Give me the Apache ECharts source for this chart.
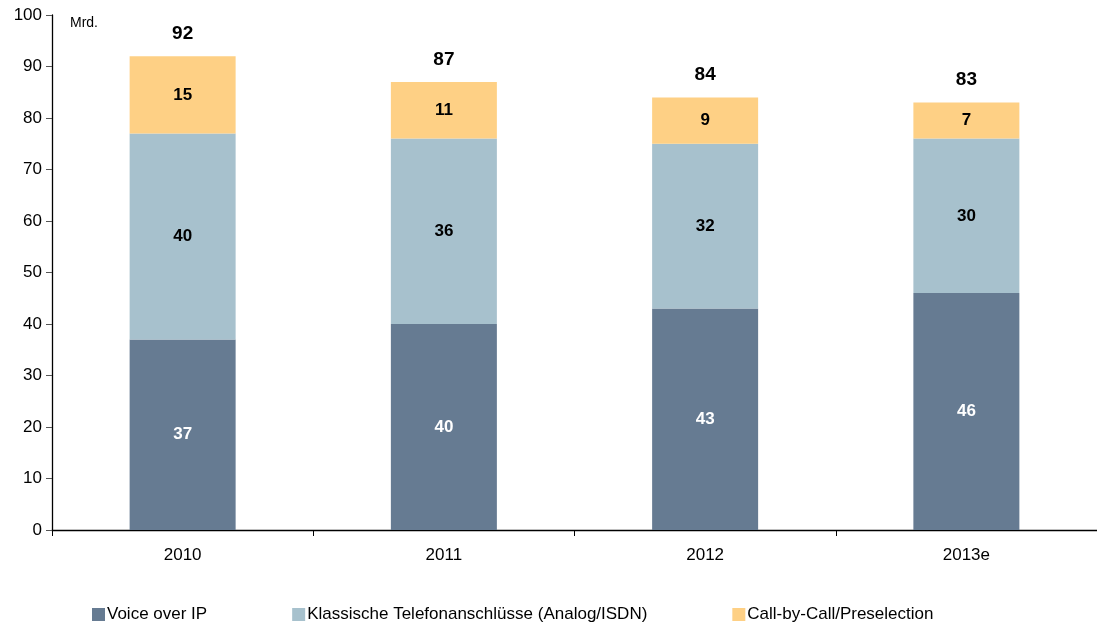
<!DOCTYPE html>
<html>
<head>
<meta charset="utf-8">
<script src="https://cdn.jsdelivr.net/npm/echarts@6/dist/echarts.min.js"></script>
<style>
  html, body { margin: 0; padding: 0; background: #ffffff; }
  #chart { width: 1097px; height: 625px; }
</style>
</head>
<body>
<div id="chart"></div>
<script>
// Sprachminuten im Festnetz, Mrd.
const years = ['2010', '2011', '2012', '2013e'];
const voip = [37, 40, 43, 46];
const klassisch = [40, 36, 32, 30];
const callByCall = [15, 11, 9, 7];
const totals = years.map((_, i) => voip[i] + klassisch[i] + callByCall[i]);

const FONT = 'Liberation Sans, Arial, sans-serif';
const colors = ['#667b92', '#a7c1cd', '#fed085'];

const chart = echarts.init(document.getElementById('chart'));

function barSeries(name, data, color, labelColor) {
  return {
    name: name,
    type: 'bar',
    stack: 'total',
    data: data,
    barWidth: 106,
    itemStyle: { color: color },
    label: {
      show: true,
      position: 'inside',
      color: labelColor,
      fontFamily: FONT,
      fontWeight: 'bold',
      fontSize: 17
    },
    emphasis: { disabled: true }
  };
}

chart.setOption({
  animation: false,
  textStyle: { fontFamily: FONT },
  grid: { left: 52, right: -5, top: 15, bottom: 95, containLabel: false },
  legend: {
    data: ['Voice over IP', 'Klassische Telefonanschlüsse (Analog/ISDN)', 'Call-by-Call/Preselection'],
    left: 92,
    top: 606,
    padding: 0,
    itemWidth: 13,
    itemHeight: 13,
    itemGap: 85,
    icon: 'rect',
    textStyle: { fontFamily: FONT, fontSize: 17, color: '#000', padding: [0, 0, 0, -3] }
  },
  graphic: [{
    type: 'text',
    left: 70,
    top: 16,
    style: { text: 'Mrd.', fontFamily: FONT, fontSize: 14, fill: '#000' }
  }],
  xAxis: {
    type: 'category',
    data: years,
    axisLine: { lineStyle: { color: '#000', width: 1.3 } },
    axisTick: { show: true, length: 6, inside: false, lineStyle: { color: '#000' } },
    axisLabel: { color: '#000', fontSize: 17, fontFamily: FONT, margin: 17 }
  },
  yAxis: {
    type: 'value',
    min: 0,
    max: 100,
    interval: 10,
    splitLine: { show: false },
    axisLine: { show: true, lineStyle: { color: '#000', width: 1.3 } },
    axisTick: { show: true, length: 6, lineStyle: { color: '#555' } },
    axisLabel: { color: '#000', fontSize: 17, fontFamily: FONT, margin: 10 }
  },
  series: [
    barSeries('Voice over IP', voip, colors[0], '#ffffff'),
    barSeries('Klassische Telefonanschlüsse (Analog/ISDN)', klassisch, colors[1], '#000000'),
    barSeries('Call-by-Call/Preselection', callByCall, colors[2], '#000000'),
    {
      // Summenbeschriftung über jedem Stapel
      name: 'Gesamt',
      type: 'scatter',
      data: totals,
      symbol: 'circle',
      symbolSize: 0.1,
      itemStyle: { color: '#ffffff', opacity: 1 },
      silent: true,
      z: 10,
      label: {
        show: true,
        position: 'top',
        distance: 13,
        color: '#000000',
        opacity: 1,
        fontFamily: FONT,
        fontWeight: 'bold',
        fontSize: 19,
        textBorderWidth: 0
      },
      emphasis: { disabled: true }
    }
  ]
});
</script>
</body>
</html>
